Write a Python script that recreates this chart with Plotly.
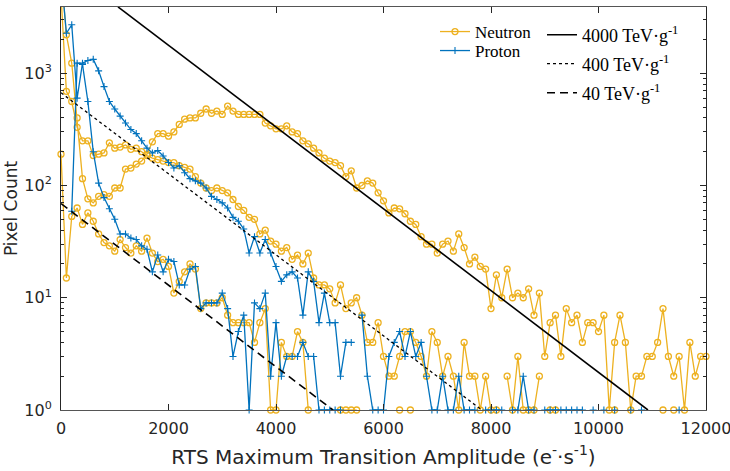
import plotly.graph_objects as go

# ---------------- data ----------------
bin_width = 100
amplitude = [i * bin_width for i in range(121)]  # RTS amplitude bins (e-/s)

neutron_4000 = [8000, 2200, 1230, 400, 115, 76, 70, 80, 83, 80,
                95, 95, 140, 143, 155, 165, 190, 245, 290, 290,
                275, 300, 350, 390, 400, 400, 440, 480, 440, 460,
                430, 510, 460, 430, 430, 430, 430, 430, 360, 340,
                320, 320, 340, 300, 290, 250, 235, 215, 195, 175,
                165, 160, 150, 120, 135, 95, 100, 110, 105, 86,
                73, 57, 63, 62, 56, 48, 45, 35, 30, 30,
                25, 30, 32, 26, 37, 28, 20, 23, 19, 18,
                8, 16, 10, 18, 10, 11, 10, 12, 7, 11,
                3, 6, 7, 3, 8, 6, 7, 4, 6, 6,
                5, 7, 1, 4, 7, 4, 1, 2, 2, 3,
                3, 4, 8, 3, 2, 3, 1, 4, 2, 3,
                3]

neutron_400 = [5000, 690, 560, 330, 250, 250, 185, 190, 195, 240,
               215, 220, 230, 210, 215, 200, 185, 175, 170, 165,
               160, 160, 150, 145, 140, 120, 105, 95, 90, 95,
               90, 86, 75, 65, 60, 52, 50, 37, 40, 32,
               30, 26, 28, 22, 24, 20, 25, 15, 13, 13,
               12, 9, 13, 8, 9, 10, 7, 4, 4, 6,
               3, 2, 2, 3, 5, 5, 4, 3, 2, 5,
               4, 2, 3, 2, 1, 4, 2, 2, 1, 2,
               1, 1, None, 2, 1, 3, 1, 1, 1, 2,
               None, 1, 1, None, None, None, None, None, None, None,
               None, None, None, 1, None, None, None, None, None, None,
               None, None, 1, None, 1, None, None, None, None, None,
               None]

neutron_40 = [190, 15, 53, 63, 45, 57, 48, 37, 31, 29,
              26, 33, 28, 25, 29, 26, 34, 25, 21, 22,
              19, 11, 14, 17, 20, 18, 8, 9, 9, 9,
              10, 7, 6, 6, 6, 6, 4, 6, 8, 1,
              1, 4, 3, 3, 5, 4, 1, None, None, None,
              None, None, 1, 1, 1, 1, None, None, None, None,
              None, None, None, 1, None, 1, None, None, None, None,
              None, None, None, None, None, None, None, None, None, None,
              None, None, None, None, None, None, None, None, None, None,
              None, None, None, None, None, None, None, None, None, None,
              None, None, None, None, None, None, None, None, None, None,
              None, None, None, None, None, None, None, None, None, None,
              None]

proton_400 = [8000, 2270, 2700, 600, 1230, 1300, 1330, 1050, 760, 560,
              480, 415, 360, 315, 290, 250, 215, 195, 205, 183,
              160, 143, 150, 130, 115, 110, 105, 95, 80, 75,
              70, 63, 52, 48, 41, 25, 35, 25, 33, 25,
              19, 14, 16, 17, 15, 7, 17, 14, 6, 11,
              6, 6, 2, 4, 4, None, 7, 2, 1, 1,
              1, 3, 4, 5, 3, 5, 3, 4, 2, 1,
              1, 2, 1, 1, 2, 1, 1, 1, None, 1,
              1, 1, 1, None, 1, 1, 2, 1, 1, None,
              1, 1, 1, 1, 1, 1, 1, 1, None, 1,
              None, 1, None, 1, None, None, 1, None, 1, None,
              None, None, None, None, None, 1, None, None, None, None,
              None]

proton_40 = [None, None, 59, 1230, 1200, 560, 200, 105, 78, 62,
             50, 37, 37, 34, 33, 29, 27, 17, 24, 17,
             22, 21, 13, 13, 18, 19, 8, 9, 9, 9,
             11, 8, 3, 5, 7, 1, 9, 8, 11, 2,
             6, 2, 3, 3, 3, 4, 3, 3, 1, 1,
             1, 1, 1, None, None, None, None, None, None, None,
             None, None, None, None, None, None, None, None, None, None,
             None, None, None, None, None, None, None, None, None, None,
             None, None, None, None, None, None, None, None, None, None,
             None, None, None, None, None, None, None, None, None, None,
             None, None, None, None, None, None, None, None, None, None,
             None, None, None, None, None, None, None, None, None, None,
             None]

# exponential reference lines (end points)
fit_4000_x = [1060, 10920]
fit_4000_y = [3900, 1.0]
fit_400_x = [0, 7830]
fit_400_y = [670, 1.0]
fit_40_x = [0, 5060]
fit_40_y = [69, 1.0]

y_tickvals = [1, 10, 100, 1000]
y_ticktext = ["10<sup>0</sup>", "10<sup>1</sup>", "10<sup>2</sup>", "10<sup>3</sup>"]
x_tickvals = [0, 2000, 4000, 6000, 8000, 10000, 12000]
x_ticktext = ["0", "2000", "4000", "6000", "8000", "10000", "12000"]

# ---------------- styling ----------------
NEU = "#EDB120"
PRO = "#0072BD"
AX = "#262626"
SANS = "DejaVu Sans, Arial, sans-serif"
SERIF = "Liberation Serif, Times New Roman, serif"

fig = go.Figure()


def neutron(y, show):
    fig.add_trace(go.Scatter(
        x=amplitude, y=y, mode="lines+markers", name="Neutron",
        line=dict(color=NEU, width=1.3),
        marker=dict(symbol="circle-open", size=6, color=NEU, line=dict(width=1.3, color=NEU)),
        legend="legend", showlegend=show, cliponaxis=False, connectgaps=False))


def proton(y, show):
    fig.add_trace(go.Scatter(
        x=amplitude, y=y, mode="lines+markers", name="Proton",
        line=dict(color=PRO, width=1.3),
        marker=dict(symbol="cross-thin", size=5, color=PRO, line=dict(width=1.1, color=PRO)),
        legend="legend3", showlegend=show, cliponaxis=False, connectgaps=False))


neutron(neutron_4000, True)
neutron(neutron_400, False)
neutron(neutron_40, False)
proton(proton_400, True)
proton(proton_40, False)

fig.add_trace(go.Scatter(x=fit_4000_x, y=fit_4000_y, mode="lines",
                         name="4000 TeV·g<sup>-1</sup>",
                         line=dict(color="black", width=1.6, dash="solid"),
                         legend="legend2"))
fig.add_trace(go.Scatter(x=fit_400_x, y=fit_400_y, mode="lines",
                         name="400 TeV·g<sup>-1</sup>",
                         line=dict(color="black", width=1.3, dash="dot"),
                         legend="legend4"))
fig.add_trace(go.Scatter(x=fit_40_x, y=fit_40_y, mode="lines",
                         name="40 TeV·g<sup>-1</sup>",
                         line=dict(color="black", width=1.6, dash="8px,5px"),
                         legend="legend5"))


def paper_y(py):
    return 1 - (py - 7) / 403.0


def paper_x(px):
    return (px - 61) / 645.0


def leg(px, py, size=18):
    return dict(x=paper_x(px), y=paper_y(py), xanchor="left", yanchor="middle",
                bgcolor="rgba(0,0,0,0)", borderwidth=0,
                font=dict(family=SERIF, size=size, color="black"), itemwidth=30)


fig.update_layout(
    width=730, height=471,
    margin=dict(l=61, r=24, t=7, b=61),
    paper_bgcolor="white", plot_bgcolor="white",
    font=dict(family=SANS, size=16, color=AX),
    xaxis=dict(range=[0, 12000], tickvals=x_tickvals, ticktext=x_ticktext,
               ticks="inside", ticklen=6, tickcolor=AX, showline=True,
               linecolor="#555555", linewidth=1.3, mirror="ticks",
               showgrid=False, zeroline=False, tickfont=dict(size=16, color=AX),
               ticklabelstandoff=4, ticklabeloverflow="allow", automargin=False,
               title=dict(text="RTS Maximum Transition Amplitude (e<sup>-</sup>·s<sup>-1</sup>)",
                          font=dict(size=20, color=AX), standoff=12)),
    yaxis=dict(type="log", range=[0, 3.59], tickvals=y_tickvals, ticktext=y_ticktext,
               ticks="inside", ticklen=6, tickcolor=AX, showline=True, linecolor=AX,
               linewidth=1, mirror="ticks", showgrid=False, zeroline=False,
               tickfont=dict(size=16, color=AX), ticklabelstandoff=5, automargin=False,
               minor=dict(ticks="inside", ticklen=3, tickcolor=AX, dtick="D1", showgrid=False),
               title=dict(text="Pixel Count", font=dict(size=17, color=AX), standoff=2)),
    legend=leg(435, 32, 17),
    legend3=leg(435, 51, 17),
    legend2=leg(542, 35),
    legend4=leg(542, 64),
    legend5=leg(542, 93),
)

fig.write_html("out.html")
